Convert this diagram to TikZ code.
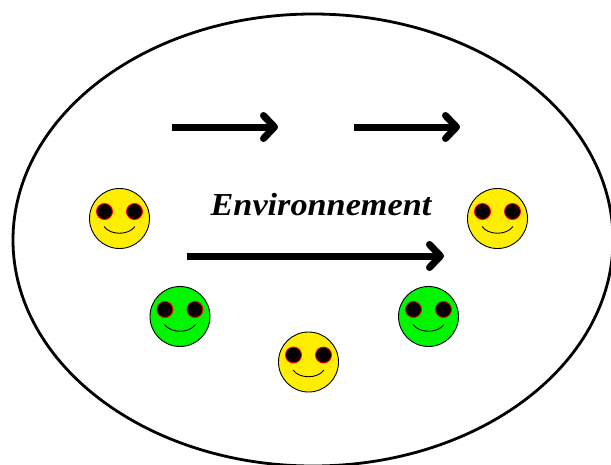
\documentclass[tikz,border=0pt]{standalone}
\usepackage{fontspec}
\setmainfont{Liberation Serif}
\newfontfamily\labelfont[FakeStretch=1.07]{Liberation Serif}
\usepackage{tikz}
\usetikzlibrary{arrows.meta,shapes.geometric}

\definecolor{faceyellow}{RGB}{255,238,0}
\definecolor{facegreen}{RGB}{0,245,0}

\tikzset{
  face/.style={circle, draw=black, line width=0.9pt, minimum size=60pt, inner sep=0pt},
  eye/.style={circle, draw=red, fill=black, line width=0.9pt, minimum size=16pt, inner sep=0pt},
  flow/.style={line width=7pt, -{Straight Barb[length=11pt,width=23pt,line width=7pt,round]}},
}

\begin{document}
\begin{tikzpicture}[x=1pt,y=-1pt]
    \useasboundingbox (0,0) rectangle (611,464);

    \node (env) [draw, ellipse, line width=2.8pt, minimum width=600pt, minimum height=452pt, inner sep=0pt] at (313,240) {};

    % the faces
    \foreach \name/\x/\y/\col in {a/119.5/218.5/faceyellow, b/180/316.5/facegreen, c/308.5/362/faceyellow, d/428.5/316.5/facegreen, e/497.5/218.5/faceyellow} {
      \node (\name) [face, fill=\col] at (\x,\y) {};
      \node (\name l) [eye] at (\x-15,\y-7) {};
      \node (\name r) [eye] at (\x+15,\y-7) {};
      \draw[line width=0.9pt] (\x-15.5,\y+8) .. controls (\x-9,\y+17) and (\x+9,\y+17) .. (\x+15.5,\y+8);
    }

    \node (label) at (321,205) {\labelfont\fontsize{32}{32}\selectfont\bfseries\itshape Environnement};

    \coordinate (s1) at (172,127);
    \coordinate (t1) at (278,127);
    \coordinate (s2) at (354,127);
    \coordinate (t2) at (460,127);
    \coordinate (s3) at (187,256);
    \coordinate (t3) at (444,256);

    \draw[flow] (s1) -- (t1);
    \draw[flow] (s2) -- (t2);
    \draw[flow] (s3) -- (t3);
\end{tikzpicture}
\end{document}
